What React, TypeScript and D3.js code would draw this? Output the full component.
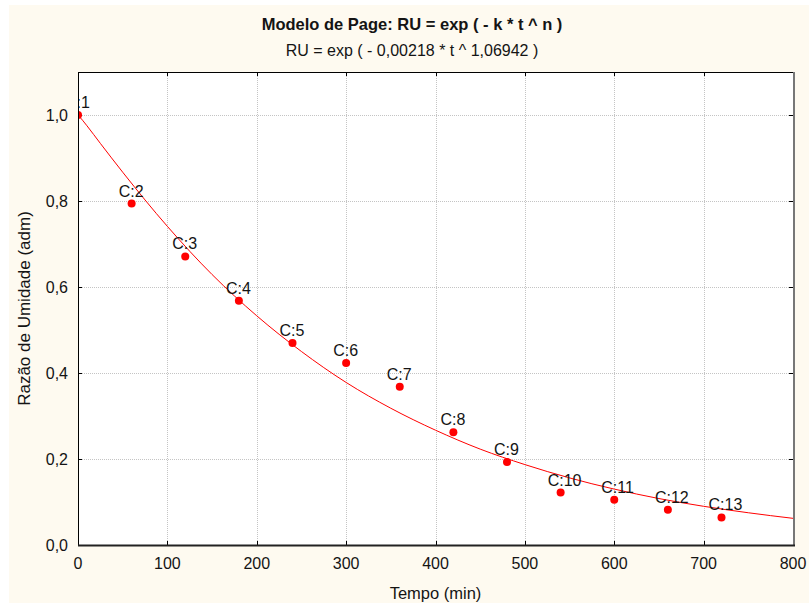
import React, { useRef, useEffect } from "react";
import * as d3 from "d3";

// tempo (min) e razao de umidade observada
const tempo = [0, 60, 120, 180, 240, 300, 360, 420, 480, 540, 600, 660, 720];
const ru = [1.0, 0.794, 0.671, 0.568, 0.47, 0.423, 0.368, 0.262, 0.193, 0.122, 0.105, 0.082, 0.064];
const labels = ["C:1", "C:2", "C:3", "C:4", "C:5", "C:6", "C:7", "C:8", "C:9", "C:10", "C:11", "C:12", "C:13"];

// curva ajustada (Page)
const curvaT = [0, 5, 10, 25, 50, 100, 150, 200, 250, 300, 350, 400, 450, 500, 550, 600, 650, 700, 750, 800];
const curvaRU = [1.0, 0.988, 0.975, 0.934, 0.867, 0.741, 0.629, 0.533, 0.45, 0.378, 0.318, 0.267, 0.223, 0.187, 0.156, 0.13, 0.108, 0.09, 0.075, 0.062];

const xTicks = [0, 100, 200, 300, 400, 500, 600, 700, 800];
const yTicks = [0, 0.2, 0.4, 0.6, 0.8, 1.0];

const title = "Modelo de Page: RU = exp ( - k * t ^ n )";
const subtitle = "RU = exp ( - 0,00218 * t ^ 1,06942 )";

function App() {
  const svgRef = useRef(null);

  useEffect(() => {
    const svg = d3.select(svgRef.current);
    svg.selectAll("*").remove();

    const left = 78, right = 793, top = 72, bottom = 545;
    const x = d3.scaleLinear().domain([0, 800]).range([left, right]);
    const y = d3.scaleLinear().domain([0, 1.1]).range([bottom, top]);
    const font = "Arial, 'Liberation Sans', sans-serif";
    const ink = "#141414";

    // fundo creme
    svg.append("rect").attr("x", 9).attr("y", 5).attr("width", 800).attr("height", 598).attr("fill", "#fefaf0");
    svg.append("rect").attr("x", left).attr("y", top).attr("width", right - left).attr("height", bottom - top).attr("fill", "#fff");

    // grade pontilhada
    const grid = svg.append("g").attr("stroke", "#c4c4c4").attr("stroke-dasharray", "1,1");
    grid.selectAll(".gx").data(xTicks.slice(1, -1)).join("line")
      .attr("x1", (d) => Math.round(x(d)) + 0.5).attr("x2", (d) => Math.round(x(d)) + 0.5)
      .attr("y1", top).attr("y2", bottom);
    grid.selectAll(".gy").data(yTicks.slice(1)).join("line")
      .attr("x1", left).attr("x2", right)
      .attr("y1", (d) => Math.round(y(d)) + 0.5).attr("y2", (d) => Math.round(y(d)) + 0.5);

    // marcas internas
    const tk = svg.append("g").attr("stroke", "#000");
    xTicks.forEach((d) => {
      const px = Math.round(x(d)) + 0.5;
      tk.append("line").attr("x1", px).attr("x2", px).attr("y1", bottom).attr("y2", bottom - 4);
      tk.append("line").attr("x1", px).attr("x2", px).attr("y1", top).attr("y2", top + 4);
    });
    yTicks.forEach((d) => {
      const py = Math.round(y(d)) + 0.5;
      tk.append("line").attr("x1", left).attr("x2", left + 4).attr("y1", py).attr("y2", py);
      tk.append("line").attr("x1", right).attr("x2", right - 4).attr("y1", py).attr("y2", py);
    });

    // area de recorte do grafico
    svg.append("clipPath").attr("id", "plot-clip")
      .append("rect").attr("x", left).attr("y", top).attr("width", right - left).attr("height", bottom - top);
    const plot = svg.append("g").attr("clip-path", "url(#plot-clip)");

    const line = d3.line().x((d) => x(d[0])).y((d) => y(d[1])).curve(d3.curveMonotoneX);
    plot.append("path")
      .datum(curvaT.map((t, i) => [t, curvaRU[i]]))
      .attr("d", line).attr("fill", "none").attr("stroke", "#ff0000").attr("stroke-width", 1);

    plot.selectAll(".pt").data(tempo).join("circle")
      .attr("cx", (d) => x(d)).attr("cy", (d, i) => y(ru[i])).attr("r", 4).attr("fill", "#ff0000");

    plot.selectAll(".lbl").data(tempo).join("text")
      .attr("x", (d) => x(d) - 13).attr("y", (d, i) => y(ru[i]) - 7)
      .attr("font-family", font).attr("font-size", 16).attr("fill", ink)
      .text((d, i) => labels[i]);

    // moldura
    svg.append("rect").attr("x", left + 0.5).attr("y", top + 0.5).attr("width", right - left).attr("height", bottom - top)
      .attr("fill", "none").attr("stroke", "#000");
    svg.append("line").attr("x1", right + 1).attr("x2", right + 1).attr("y1", top).attr("y2", bottom + 1)
      .attr("stroke", "#777").attr("stroke-width", 2);
    svg.append("line").attr("x1", left).attr("x2", right + 2).attr("y1", bottom + 0.5).attr("y2", bottom + 0.5)
      .attr("stroke", "#222").attr("stroke-width", 2);

    // rotulos dos eixos
    const fmt = (v) => d3.format(".1f")(v).replace(".", ",");
    svg.selectAll(".yl").data(yTicks).join("text")
      .attr("x", 68).attr("y", (d) => y(d)).attr("dy", "0.35em").attr("text-anchor", "end")
      .attr("font-family", font).attr("font-size", 16).attr("fill", ink).text(fmt);
    svg.selectAll(".xl").data(xTicks).join("text")
      .attr("x", (d) => x(d)).attr("y", 569).attr("text-anchor", "middle")
      .attr("font-family", font).attr("font-size", 16).attr("fill", ink).text((d) => d);

    svg.append("text").attr("x", (left + right) / 2).attr("y", 599).attr("text-anchor", "middle")
      .attr("font-family", font).attr("font-size", 16.5).attr("fill", ink).text("Tempo (min)");
    svg.append("text").attr("transform", `translate(30,${(top + bottom) / 2}) rotate(-90)`)
      .attr("text-anchor", "middle").attr("font-family", font).attr("font-size", 17).attr("fill", ink)
      .text("Razão de Umidade (adm)");

    svg.append("text").attr("x", 412).attr("y", 30).attr("text-anchor", "middle")
      .attr("font-family", font).attr("font-size", 16.5).attr("font-weight", "bold").attr("fill", ink).text(title);
    svg.append("text").attr("x", 412).attr("y", 56).attr("text-anchor", "middle")
      .attr("font-family", font).attr("font-size", 16).attr("fill", ink).text(subtitle);
  }, []);

  return (
    <div style={{ position: "absolute", left: 0, top: 0 }}>
      <svg ref={svgRef} width={809} height={606} style={{ display: "block" }} />
    </div>
  );
}

export default App;
